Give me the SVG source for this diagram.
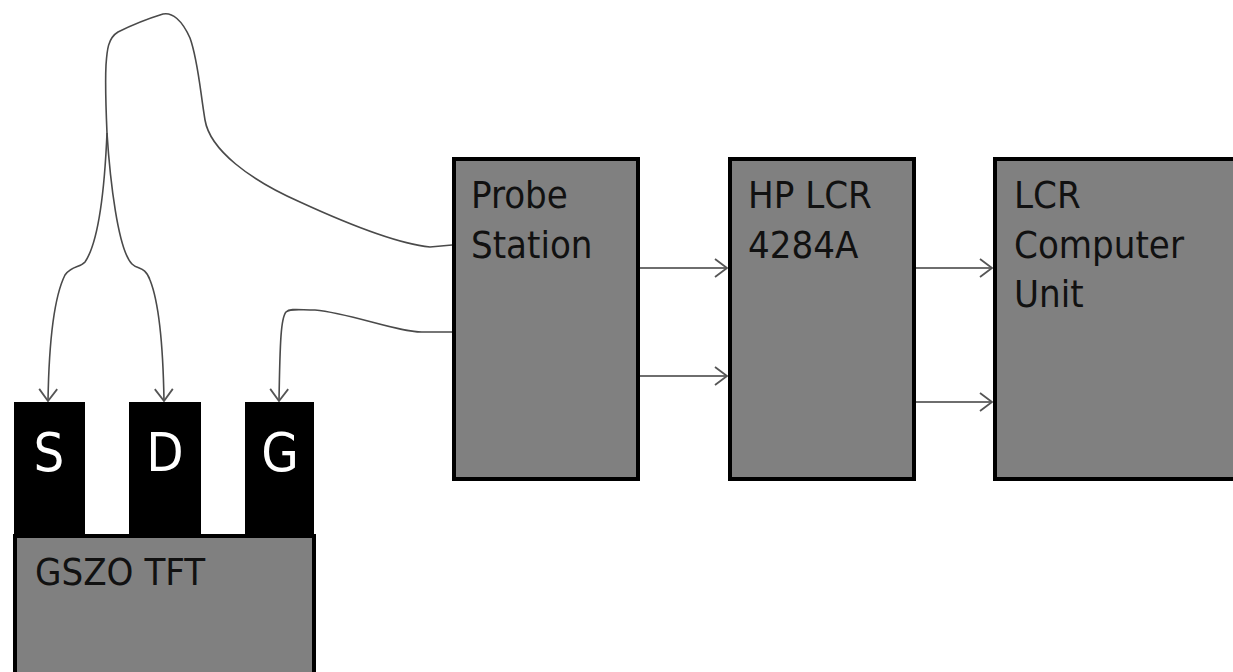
<svg xmlns="http://www.w3.org/2000/svg" width="1233" height="672" viewBox="0 0 1233 672">
<defs>
<style>
.box{fill:#808080;stroke:#000;stroke-width:4}
.pad{fill:#000;stroke:#000;stroke-width:2}
.lbl{font-family:"DejaVu Sans Condensed","DejaVu Sans",sans-serif;font-size:38px;fill:#111}
.pl{font-family:"DejaVu Sans Condensed","DejaVu Sans",sans-serif;font-size:54px;fill:#fff;text-anchor:middle}
.wire{fill:none;stroke:#4a4a4a;stroke-width:1.6}
.arr{fill:none;stroke:#6e6e6e;stroke-width:2}
</style>
<marker id="ah" markerUnits="userSpaceOnUse" markerWidth="24" markerHeight="24" viewBox="-14 -12 16 24" refX="0" refY="0" orient="auto">
<path d="M-12,-9 L0,0 L-12,9" fill="none" stroke="#555" stroke-width="1.8"/>
</marker>
</defs>
<rect width="1233" height="672" fill="#fff"/>
<g id="connectors">
<path class="wire" d="M452,245 L430,247 C400,244 350,225 300,202 C250,180 210,150 205,120 C200,90 198,60 190,38 C182,20 172,12 163,14 C150,18 130,26 118,32 C108,38 107,50 106,65 C105,85 106,110 107,133"/>
<path class="wire" marker-end="url(#ah)" d="M107,133 C105,180 100,240 85,262 C80,268 72,265 65,275 C55,295 49,340 48,401"/>
<path class="wire" marker-end="url(#ah)" d="M107,133 C110,180 118,250 132,264 C138,270 145,266 150,280 C158,300 163,340 164,401"/>
<path class="wire" marker-end="url(#ah)" d="M452,332 L423,332 C400,333 350,313 315,310 C300,310 290,308 286,312 C281,318 280,340 279,401"/>
<path class="arr" marker-end="url(#ah)" d="M638,268 L727,268"/>
<path class="arr" marker-end="url(#ah)" d="M638,376 L727,376"/>
<path class="arr" marker-end="url(#ah)" d="M914,268 L992,268"/>
<path class="arr" marker-end="url(#ah)" d="M914,402 L992,402"/>
</g>
<g id="probe-station">
<rect class="box" x="454" y="159" width="184" height="320"/>
<text class="lbl" x="471" y="208">Probe</text>
<text class="lbl" x="471" y="258">Station</text>
</g>
<g id="hp-lcr">
<rect class="box" x="730" y="159" width="184" height="320"/>
<text class="lbl" x="748" y="208">HP LCR</text>
<text class="lbl" x="748" y="258">4284A</text>
</g>
<g id="lcr-computer">
<rect class="box" x="995" y="159" width="260" height="320"/>
<text class="lbl" x="1014" y="208">LCR</text>
<text class="lbl" x="1014" y="258">Computer</text>
<text class="lbl" x="1014" y="307">Unit</text>
</g>
<g id="gszo-tft">
<rect class="box" x="15" y="536" width="299" height="160"/>
<text class="lbl" x="35" y="585">GSZO TFT</text>
</g>
<g id="pad-s">
<rect class="pad" x="15" y="403" width="69" height="133"/>
<text class="pl" x="49" y="471">S</text>
</g>
<g id="pad-d">
<rect class="pad" x="130" y="403" width="70" height="133"/>
<text class="pl" x="165" y="471">D</text>
</g>
<g id="pad-g">
<rect class="pad" x="246" y="403" width="67" height="133"/>
<text class="pl" x="280" y="471">G</text>
</g>
</svg>
